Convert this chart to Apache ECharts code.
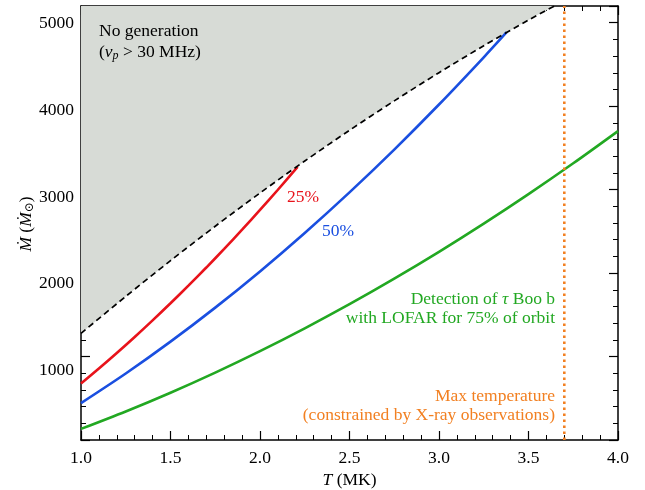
<!DOCTYPE html>
<html>
<head>
<meta charset="utf-8">
<script src="https://cdn.jsdelivr.net/npm/echarts@6/dist/echarts.min.js"></script>
<style>
html,body{margin:0;padding:0;background:#fff;}
#c{width:645px;height:490px;}
</style>
</head>
<body>
<div id="c"></div>
<script>
// Boundary of "no generation" region (dashed)
const boundaryT = [1.0, 1.25, 1.5, 1.75, 2.0, 2.25, 2.5, 2.75, 3.0, 3.25, 3.5, 3.645];
const boundaryM = [1428, 1854, 2266, 2663, 3046, 3414, 3768, 4107, 4432, 4742, 5038, 5200];
// 25% curve (red)
const redT = [1.0, 1.1, 1.2, 1.3, 1.4, 1.5, 1.6, 1.7, 1.8, 1.9, 2.0, 2.1, 2.21];
const redM = [850, 1023, 1202, 1387, 1578, 1775, 1978, 2187, 2402, 2623, 2850, 3083, 3346];
// 50% curve (blue)
const blueT = [1.0, 1.25, 1.5, 1.75, 2.0, 2.25, 2.5, 2.75, 3.0, 3.25, 3.378];
const blueM = [625, 966, 1333, 1725, 2142, 2585, 3053, 3546, 4065, 4609, 4898];
// 75% curve (green)
const greenT = [1.0, 1.25, 1.5, 1.75, 2.0, 2.25, 2.5, 2.75, 3.0, 3.25, 3.5, 3.75, 4.0];
const greenM = [328, 529, 745, 977, 1224, 1487, 1765, 2059, 2368, 2693, 3033, 3388, 3759];
// Max temperature
const maxTemp = 3.7;
// Axes
const xTicks = [1.0, 1.5, 2.0, 2.5, 3.0, 3.5, 4.0];
const yTicks = [1000, 2000, 3000, 4000, 5000];
const xMin = 1.0, xMax = 4.0, yMin = 200, yMax = 5200;

const zip = (a, b) => a.map((v, i) => [v, b[i]]);
const FONT = '"Liberation Serif", "DejaVu Serif", serif';
const FS = 17.5;

const chart = echarts.init(document.getElementById('c'), null, {renderer: 'canvas'});

const baseAxis = {
  axisLine: {show: true, onZero: false, lineStyle: {color: '#000', width: 1.5}},
  axisTick: {show: true, inside: true, length: 9, lineStyle: {color: '#000', width: 1.2}},
  minorTick: {show: true, splitNumber: 5, length: 5, lineStyle: {color: '#000', width: 1}},
  splitLine: {show: false},
  minorSplitLine: {show: false}
};

const option = {
  backgroundColor: '#fff',
  animation: false,
  grid: {left: 81, right: 27, top: 6, bottom: 50, containLabel: false, outerBoundsMode: 'none'},
  xAxis: [
    Object.assign({}, baseAxis, {
      type: 'value', min: xMin, max: xMax, interval: 0.5, position: 'bottom',
      axisLabel: {color: '#000', fontFamily: FONT, fontSize: FS, margin: 9,
        formatter: v => xTicks.some(t => Math.abs(t - v) < 1e-6) ? v.toFixed(1) : ''},
      name: '{i|T} (MK)', nameLocation: 'middle', nameGap: 31,
      nameTextStyle: {color: '#000', fontFamily: FONT, fontSize: FS,
        rich: {i: {fontFamily: FONT, fontSize: FS, fontStyle: 'italic', color: '#000'}}}
    }),
    Object.assign({}, baseAxis, {
      type: 'value', min: xMin, max: xMax, interval: 0.5, position: 'top',
      axisLabel: {show: false}
    })
  ],
  yAxis: [
    Object.assign({}, baseAxis, {
      type: 'value', min: yMin, max: yMax, interval: 200, position: 'left',
      minorTick: {show: false},
      axisTick: {show: false},
      axisLabel: {color: '#000', fontFamily: FONT, fontSize: FS, margin: 7,
        formatter: v => yTicks.indexOf(v) >= 0 ? String(v) : ''}
    }),
    Object.assign({}, baseAxis, {
      type: 'value', min: yMin, max: yMax, interval: 200, position: 'right',
      minorTick: {show: false},
      axisTick: {show: false},
      axisLabel: {show: false}
    }),
    // tick helpers: major ticks every 1000 and minor every 200 (left & right)
    Object.assign({}, baseAxis, {
      type: 'value', min: 0, max: yMax, interval: 1000, position: 'left',
      axisLine: {show: false}, axisLabel: {show: false},
      axisTick: {show: true, inside: true, length: 9, lineStyle: {color: '#000', width: 1.2}},
      minorTick: {show: true, splitNumber: 5, length: 5, lineStyle: {color: '#000', width: 1}}
    }),
    Object.assign({}, baseAxis, {
      type: 'value', min: 0, max: yMax, interval: 1000, position: 'right',
      axisLine: {show: false}, axisLabel: {show: false},
      axisTick: {show: true, inside: true, length: 9, lineStyle: {color: '#000', width: 1.2}},
      minorTick: {show: true, splitNumber: 5, length: 5, lineStyle: {color: '#000', width: 1}}
    })
  ],
  series: [
    {
      name: 'region', type: 'line', data: zip(boundaryT, boundaryM),
      showSymbol: false, smooth: 0.3, lineStyle: {width: 0},
      areaStyle: {origin: 'end', color: '#d7dbd6', opacity: 1}, z: 1, silent: true
    },
    {
      name: 'boundary', type: 'line', data: zip(boundaryT, boundaryM),
      showSymbol: false, smooth: 0.3,
      lineStyle: {color: '#000', width: 1.7, type: [6, 4]}, z: 5
    },
    {
      name: '25%', type: 'line', data: zip(redT, redM), showSymbol: false, smooth: 0.3,
      lineStyle: {color: '#e8131b', width: 2.6}, z: 4
    },
    {
      name: '50%', type: 'line', data: zip(blueT, blueM), showSymbol: false, smooth: 0.3,
      lineStyle: {color: '#1a4fe0', width: 2.6}, z: 4
    },
    {
      name: '75%', type: 'line', data: zip(greenT, greenM), showSymbol: false, smooth: 0.3,
      lineStyle: {color: '#22a822', width: 2.6}, z: 4
    },
    {
      name: 'maxT', type: 'line', data: [[maxTemp, yMin], [maxTemp, yMax]], showSymbol: false,
      lineStyle: {color: '#f28022', width: 2.6, type: [2.5, 3.5], cap: 'butt'}, z: 4
    }
  ],
  graphic: [
    {type: 'text', x: 26, y: 224, rotation: Math.PI / 2, z: 10, style: {
      text: '{i|Ṁ} ({i|Ṁ}{s|⊙})', font: FS + 'px ' + FONT, fill: '#000', align: 'center', verticalAlign: 'middle',
      rich: {i: {fontFamily: FONT, fontSize: FS, fontStyle: 'italic', fill: '#000'},
             s: {fontFamily: FONT, fontSize: 12, fill: '#000', padding: [8, 0, 0, 0]}}}},
    {type: 'text', x: 99, y: 31, z: 10, style: {
      text: 'No generation', font: FS + 'px ' + FONT, fill: '#000', verticalAlign: 'middle'}},
    {type: 'text', x: 99, y: 52, z: 10, style: {
      text: '({i|ν}{s|p} > 30 MHz)', font: FS + 'px ' + FONT, fill: '#000', verticalAlign: 'middle',
      rich: {i: {fontFamily: FONT, fontSize: FS, fontStyle: 'italic', fill: '#000'},
             s: {fontFamily: FONT, fontSize: 12, fontStyle: 'italic', fill: '#000', padding: [8, 0, 0, 0]}}}},
    {type: 'text', x: 287, y: 197, z: 10, style: {
      text: '25%', font: FS + 'px ' + FONT, fill: '#e8131b', verticalAlign: 'middle'}},
    {type: 'text', x: 322, y: 231, z: 10, style: {
      text: '50%', font: FS + 'px ' + FONT, fill: '#1a4fe0', verticalAlign: 'middle'}},
    {type: 'text', x: 555, y: 299, z: 10, style: {
      text: 'Detection of {i|τ} Boo b', font: FS + 'px ' + FONT, fill: '#22a822', align: 'right', verticalAlign: 'middle',
      rich: {i: {fontFamily: FONT, fontSize: FS, fontStyle: 'italic', fill: '#22a822'}}}},
    {type: 'text', x: 555, y: 318, z: 10, style: {
      text: 'with LOFAR for 75% of orbit', font: FS + 'px ' + FONT, fill: '#22a822', align: 'right', verticalAlign: 'middle'}},
    {type: 'text', x: 555, y: 396, z: 10, style: {
      text: 'Max temperature', font: FS + 'px ' + FONT, fill: '#f28022', align: 'right', verticalAlign: 'middle'}},
    {type: 'text', x: 555, y: 415, z: 10, style: {
      text: '(constrained by X-ray observations)', font: FS + 'px ' + FONT, fill: '#f28022', align: 'right', verticalAlign: 'middle'}}
  ]
};
chart.setOption(option);
</script>
</body>
</html>
